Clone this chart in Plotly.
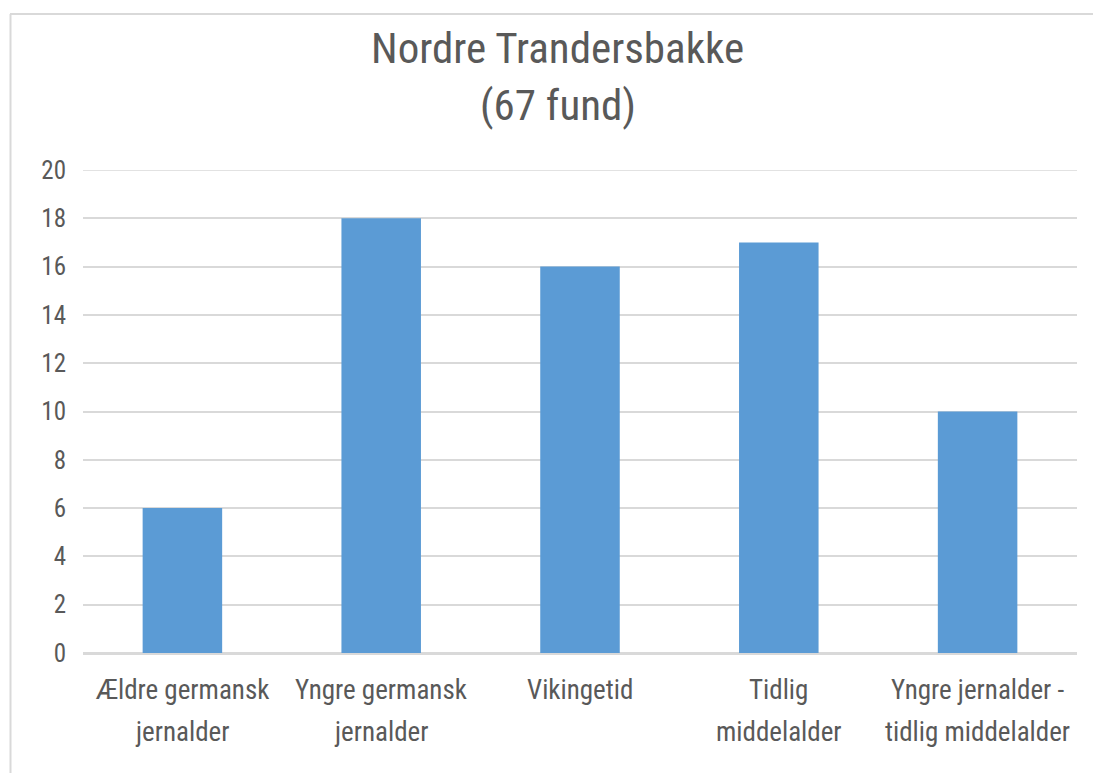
import plotly.graph_objects as go

categories = ["Ældre germansk<br>jernalder", "Yngre germansk<br>jernalder", "Vikingetid",
              "Tidlig<br>middelalder", "Yngre jernalder -<br>tidlig middelalder"]
values = [6, 18, 16, 17, 10]
title_lines = ["Nordre Trandersbakke", "(67 fund)"]
y_ticks = [0, 2, 4, 6, 8, 10, 12, 14, 16, 18, 20]

FONT = "Roboto Condensed, Liberation Sans Narrow, Roboto, sans-serif"
TXT = "#595959"
GRID = "#d9d9d9"

W, H = 1093, 773
L, R, T, B = 83, 16, 170, 120
pw, ph = W - L - R, H - T - B


def py(p):  # pixel from top -> paper y
    return (H - B - p) / ph


def px(p):  # pixel from left -> paper x
    return (p - L) / pw


fig = go.Figure(go.Bar(x=categories, y=values, marker=dict(color="#5b9bd5", line=dict(width=0))))

annotations = []
for i, t in enumerate(title_lines):
    annotations.append(dict(text=t, xref="paper", yref="paper", x=px(W / 2 + 11), y=py(48 + 57 * i),
                            xanchor="center", yanchor="middle", showarrow=False,
                            font=dict(family=FONT, size=43, color=TXT)))
for c in categories:
    for j, line in enumerate(c.split("<br>")):
        annotations.append(dict(text=line, xref="x", yref="paper", x=c, y=py(690 + 42 * j),
                                xanchor="center", yanchor="middle", showarrow=False,
                                font=dict(family=FONT, size=27, color=TXT)))

fig.update_layout(
    width=W, height=H,
    margin=dict(l=L, r=R, t=T, b=B),
    paper_bgcolor="white", plot_bgcolor="white",
    bargap=0.6,
    showlegend=False,
    font=dict(family=FONT, color=TXT),
    xaxis=dict(showgrid=False, showline=True, linecolor=GRID, linewidth=1.5,
               showticklabels=False, ticks=""),
    yaxis=dict(range=[y_ticks[0], y_ticks[-1]], tickvals=y_ticks, showgrid=True, gridcolor=GRID,
               gridwidth=1.5, zeroline=True, zerolinecolor=GRID, zerolinewidth=1.5, showline=False,
               tickfont=dict(family=FONT, size=25, color=TXT), ticks="", ticklabelstandoff=16),
    annotations=annotations,
    shapes=[
        dict(type="line", xref="paper", yref="y", x0=0, x1=1, y0=y_ticks[-1], y1=y_ticks[-1],
             line=dict(color=GRID, width=1.5), layer="below"),
        dict(type="line", xref="paper", yref="paper", x0=px(10), x1=px(W + 5), y0=py(14), y1=py(14),
             line=dict(color=GRID, width=2)),
        dict(type="line", xref="paper", yref="paper", x0=px(10.5), x1=px(10.5), y0=py(14), y1=py(H + 5),
             line=dict(color=GRID, width=2)),
    ],
)

fig.write_html("out.html", config={"displayModeBar": False},
               post_script="document.body.style.margin='0';document.body.style.overflow='hidden';")
